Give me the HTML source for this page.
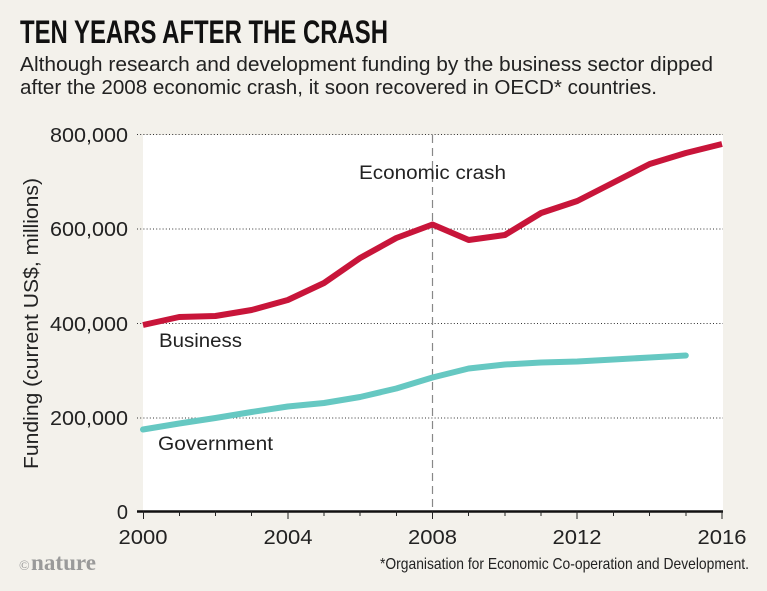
<!DOCTYPE html>
<html>
<head>
<meta charset="utf-8">
<style>
html,body{margin:0;padding:0;background:#f3f1eb;}
svg{display:block;}
text{font-family:"Liberation Sans","DejaVu Sans",sans-serif;}
</style>
</head>
<body>
<svg width="767" height="591" viewBox="0 0 767 591" xmlns="http://www.w3.org/2000/svg">
  <rect x="0" y="0" width="767" height="591" fill="#f3f1eb"/>
  <!-- Title -->
  <text x="20" y="43" font-size="32" font-weight="bold" fill="#111" textLength="368" lengthAdjust="spacingAndGlyphs">TEN YEARS AFTER THE CRASH</text>
  <!-- Subtitle -->
  <text x="20" y="71" font-size="20" fill="#222" textLength="693" lengthAdjust="spacingAndGlyphs">Although research and development funding by the business sector dipped</text>
  <text x="20" y="94" font-size="20" fill="#222" textLength="637" lengthAdjust="spacingAndGlyphs">after the 2008 economic crash, it soon recovered in OECD* countries.</text>

  <!-- Plot area -->
  <rect x="143" y="135" width="580" height="377" fill="#ffffff"/>

  <!-- Gridlines -->
  <g stroke="#333" stroke-width="1" stroke-dasharray="1,2.2">
    <line x1="137" y1="134.5" x2="723" y2="134.5"/>
    <line x1="137" y1="229" x2="723" y2="229"/>
    <line x1="137" y1="323.5" x2="723" y2="323.5"/>
    <line x1="137" y1="418" x2="723" y2="418"/>
  </g>

  <!-- Y tick labels -->
  <g font-size="20" fill="#222" text-anchor="end">
    <text x="128" y="142" textLength="78" lengthAdjust="spacingAndGlyphs">800,000</text>
    <text x="128" y="236" textLength="78" lengthAdjust="spacingAndGlyphs">600,000</text>
    <text x="128" y="331" textLength="78" lengthAdjust="spacingAndGlyphs">400,000</text>
    <text x="128" y="425" textLength="78" lengthAdjust="spacingAndGlyphs">200,000</text>
    <text x="128" y="519">0</text>
  </g>

  <!-- Y axis title -->
  <text transform="translate(38,323.5) rotate(-90)" font-size="20" fill="#222" text-anchor="middle" textLength="291" lengthAdjust="spacingAndGlyphs">Funding (current US$, millions)</text>

  <!-- Crash dashed line -->
  <line x1="432.5" y1="135" x2="432.5" y2="512" stroke="#888" stroke-width="1.2" stroke-dasharray="8,5"/>
  <text x="359" y="179" font-size="19" fill="#222" textLength="147" lengthAdjust="spacingAndGlyphs">Economic crash</text>

  <!-- Government series -->
  <polyline fill="none" stroke="#66c8c2" stroke-width="6" stroke-linejoin="round" stroke-linecap="round"
    points="143,429.5 179.2,423.5 215.4,418 251.6,412 287.8,406.5 324,403 360.1,397 396.3,388.5 432.5,377.5 468.7,368.5 504.9,364.5 541.1,362.5 577.3,361.5 613.5,359.5 649.7,357.5 685.8,355.5"/>

  <!-- Business series -->
  <polyline fill="none" stroke="#c8153a" stroke-width="6" stroke-linejoin="round" stroke-linecap="butt"
    points="143,325 179.2,317 215.4,316 251.6,310 287.8,300 324,283 360.1,258 396.3,238 432.5,224.5 468.7,240 504.9,235 541.1,213 577.3,201 613.5,182.5 649.7,164 685.8,153 722,144"/>

  <!-- Series labels -->
  <text x="159" y="347" font-size="19" fill="#222" textLength="83" lengthAdjust="spacingAndGlyphs">Business</text>
  <text x="158" y="450" font-size="19" fill="#222" textLength="115" lengthAdjust="spacingAndGlyphs">Government</text>

  <!-- X axis -->
  <line x1="137" y1="511.5" x2="723" y2="511.5" stroke="#111" stroke-width="2.5"/>
  <g stroke="#222" stroke-width="1">
    <line x1="143.5" y1="511" x2="143.5" y2="519"/>
    <line x1="179.5" y1="511" x2="179.5" y2="516"/>
    <line x1="215.5" y1="511" x2="215.5" y2="516"/>
    <line x1="251.5" y1="511" x2="251.5" y2="516"/>
    <line x1="288" y1="511" x2="288" y2="519"/>
    <line x1="324" y1="511" x2="324" y2="516"/>
    <line x1="360" y1="511" x2="360" y2="516"/>
    <line x1="396.5" y1="511" x2="396.5" y2="516"/>
    <line x1="432.5" y1="511" x2="432.5" y2="519"/>
    <line x1="468.5" y1="511" x2="468.5" y2="516"/>
    <line x1="505" y1="511" x2="505" y2="516"/>
    <line x1="541" y1="511" x2="541" y2="516"/>
    <line x1="577" y1="511" x2="577" y2="519"/>
    <line x1="613.5" y1="511" x2="613.5" y2="516"/>
    <line x1="649.5" y1="511" x2="649.5" y2="516"/>
    <line x1="686" y1="511" x2="686" y2="516"/>
    <line x1="722" y1="511" x2="722" y2="519"/>
  </g>
  <g font-size="20" fill="#222" text-anchor="middle">
    <text x="143" y="544" textLength="49" lengthAdjust="spacingAndGlyphs">2000</text>
    <text x="288" y="544" textLength="49" lengthAdjust="spacingAndGlyphs">2004</text>
    <text x="432.5" y="544" textLength="49" lengthAdjust="spacingAndGlyphs">2008</text>
    <text x="577" y="544" textLength="49" lengthAdjust="spacingAndGlyphs">2012</text>
    <text x="722" y="544" textLength="49" lengthAdjust="spacingAndGlyphs">2016</text>
  </g>

  <!-- Footer -->
  <text x="19" y="570" style="font-family:'Liberation Serif',serif;" font-size="14" fill="#9a9a9a">©</text>
  <text x="31" y="570" style="font-family:'Liberation Serif',serif;font-weight:bold;" font-size="23" fill="#9a9a9a" textLength="65" lengthAdjust="spacingAndGlyphs">nature</text>
  <text x="749" y="569" font-size="16" fill="#222" text-anchor="end" textLength="369" lengthAdjust="spacingAndGlyphs">*Organisation for Economic Co-operation and Development.</text>
</svg>
</body>
</html>
